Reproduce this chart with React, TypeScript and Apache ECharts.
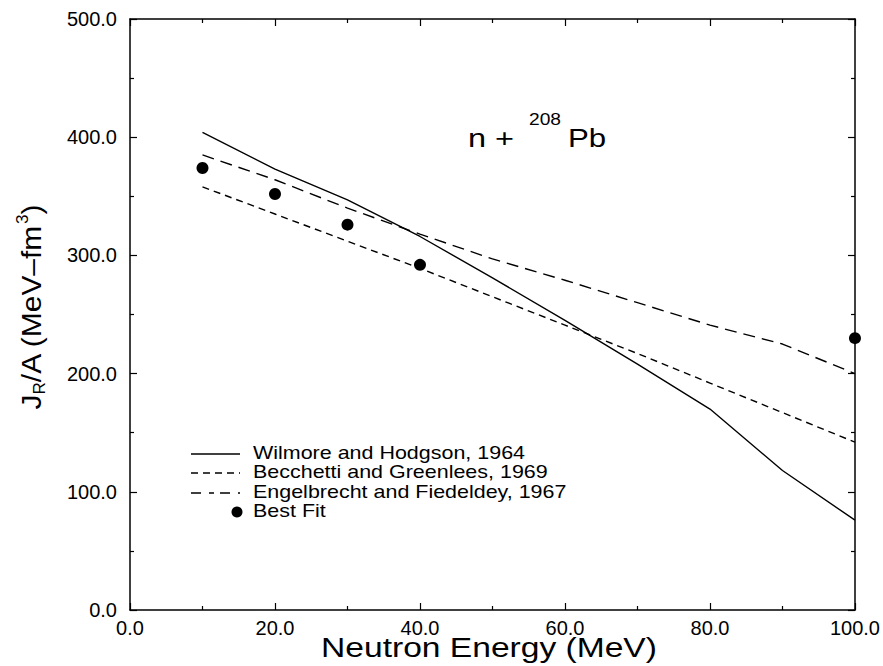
import React, { useEffect, useRef } from "react";
import * as echarts from "echarts";

// ---- data ----
const energies = [10, 20, 30, 40, 50, 60, 70, 80, 90, 100];
const wilmoreHodgson = [404, 373, 347, 316, 281, 245, 208, 170, 118, 76];
const becchettiGreenlees = [385, 364, 340, 318, 297, 279, 260, 241, 225, 200];
const engelbrechtFiedeldey = [358, 335, 312, 289, 265, 241, 217, 192, 167, 142];
const bestFitEnergies = [10, 20, 30, 40, 100];
const bestFitValues = [374, 352, 326, 292, 230];

const seriesNames = [
  "Wilmore and Hodgson, 1964",
  "Becchetti and Greenlees, 1969",
  "Engelbrecht and Fiedeldey, 1967",
  "Best Fit",
];

const FONT = '"Liberation Sans", Arial, Helvetica, sans-serif';

let measureCtx: CanvasRenderingContext2D | null = null;
function measure(text: string, size: number): number {
  if (!measureCtx) {
    const c = document.createElement("canvas");
    measureCtx = c.getContext("2d");
  }
  if (!measureCtx) return text.length * size * 0.55;
  measureCtx.font = `${size}px ${FONT}`;
  return measureCtx.measureText(text).width;
}

function txt(
  text: string,
  x: number,
  y: number,
  size: number,
  align: string,
  extra: any = {}
) {
  return {
    type: "text",
    x,
    y,
    silent: true,
    ...extra,
    style: {
      text,
      fontSize: size,
      fontFamily: FONT,
      fill: "#000",
      align,
      verticalAlign: "middle",
      textAlign: align,
      textVerticalAlign: "middle",
    },
  };
}

function buildYTitle() {
  const big = 28;
  const small = 16;
  const wJ = measure("J", big);
  const wR = measure("R", small);
  const mid = "/A (MeV\u2013fm";
  const wMid = measure(mid, big);
  const w3 = measure("3", small);
  const wP = measure(")", big);
  const L = wJ + wR + wMid + w3 + wP;
  let x0 = -L / 2;
  const children: any[] = [];
  children.push(txt("J", x0, 0, big, "left"));
  x0 += wJ;
  children.push(txt("R", x0, 9, small, "left"));
  x0 += wR;
  children.push(txt(mid, x0, 0, big, "left"));
  x0 += wMid;
  children.push(txt("3", x0, -8, small, "left"));
  x0 += w3;
  children.push(txt(")", x0, 0, big, "left"));
  return {
    type: "group",
    x: 31,
    y: 307,
    rotation: Math.PI / 2,
    scaleX: 1.07,
    children,
  };
}

function buildLegend() {
  const rows = [454, 473, 493, 512];
  const textX = 253;
  const els: any[] = [];
  els.push({
    type: "line",
    silent: true,
    shape: { x1: 191, y1: rows[0], x2: 240, y2: rows[0] },
    style: { stroke: "#000", lineWidth: 1.3 },
  });
  els.push({
    type: "line",
    silent: true,
    shape: { x1: 191, y1: rows[1], x2: 240, y2: rows[1] },
    style: { stroke: "#000", lineWidth: 1.3, lineDash: [7, 5] },
  });
  els.push({
    type: "line",
    silent: true,
    shape: { x1: 191, y1: rows[2], x2: 240, y2: rows[2] },
    style: { stroke: "#000", lineWidth: 1.3, lineDash: [10, 8, 5, 6] },
  });
  els.push({
    type: "circle",
    silent: true,
    shape: { cx: 237, cy: rows[3], r: 5.5 },
    style: { fill: "#000" },
  });
  seriesNames.forEach((n, i) => {
    els.push(txt(n, textX, rows[i] - 1.5, 19, "left", { scaleX: 1.13 }));
  });
  return els;
}

function buildAnnotation() {
  return [
    txt("n +", 468, 138, 26, "left", { scaleX: 1.25 }),
    txt("208", 529, 119.5, 16, "left", { scaleX: 1.2 }),
    txt("Pb", 568, 138, 26, "left", { scaleX: 1.2 }),
  ];
}

const axisCommon = {
  axisLine: { show: true, onZero: false, lineStyle: { color: "#000", width: 1.5 } },
  axisTick: { show: true, inside: true, length: 7, lineStyle: { color: "#000", width: 1.2 } },
  minorTick: { show: true, splitNumber: 2, length: 4, lineStyle: { color: "#000", width: 1.2 } },
  splitLine: { show: false },
  minorSplitLine: { show: false },
};

export default function App() {
  const ref = useRef<HTMLDivElement>(null);
  useEffect(() => {
    if (!ref.current) return;
    const chart = echarts.init(ref.current, undefined, { renderer: "svg" });
    const fmt = (v: number) => v.toFixed(1);
    chart.setOption({
      animation: false,
      backgroundColor: "#fff",
      grid: { left: 130, top: 19, right: 27, bottom: 56, containLabel: false },
      xAxis: [
        {
          type: "value",
          min: 0,
          max: 100,
          interval: 20,
          position: "bottom",
          ...axisCommon,
          axisLabel: {
            show: true,
            formatter: fmt,
            fontSize: 20,
            fontFamily: FONT,
            color: "#000",
            margin: 8,
          },
        },
        {
          type: "value",
          min: 0,
          max: 100,
          interval: 20,
          position: "top",
          ...axisCommon,
          axisLabel: { show: false },
        },
      ],
      yAxis: [
        {
          type: "value",
          min: 0,
          max: 500,
          interval: 100,
          position: "left",
          ...axisCommon,
          axisLabel: {
            show: true,
            formatter: fmt,
            fontSize: 20,
            fontFamily: FONT,
            color: "#000",
            margin: 13,
          },
        },
        {
          type: "value",
          min: 0,
          max: 500,
          interval: 100,
          position: "right",
          ...axisCommon,
          axisLabel: { show: false },
        },
      ],
      series: [
        {
          name: seriesNames[0],
          type: "line",
          symbol: "none",
          data: energies.map((e, i) => [e, wilmoreHodgson[i]]),
          lineStyle: { color: "#000", width: 1.4, type: "solid" },
        },
        {
          name: seriesNames[1],
          type: "line",
          symbol: "none",
          data: energies.map((e, i) => [e, becchettiGreenlees[i]]),
          lineStyle: { color: "#000", width: 1.4, type: [12, 7] },
        },
        {
          name: seriesNames[2],
          type: "line",
          symbol: "none",
          data: energies.map((e, i) => [e, engelbrechtFiedeldey[i]]),
          lineStyle: { color: "#000", width: 1.4, type: [7, 5] },
        },
        {
          name: seriesNames[3],
          type: "scatter",
          symbol: "circle",
          symbolSize: 12,
          itemStyle: { color: "#000", opacity: 1 },
          data: bestFitEnergies.map((e, i) => [e, bestFitValues[i]]),
        },
      ],
      graphic: [
        ...buildLegend(),
        ...buildAnnotation(),
        txt("Neutron Energy (MeV)", 489, 647, 28, "center", { scaleX: 1.2 }),
        buildYTitle(),
      ],
    });
    return () => chart.dispose();
  }, []);
  return (
    <div
      ref={ref}
      style={{ position: "absolute", left: 0, top: 0, width: 883, height: 666, background: "#fff" }}
    />
  );
}
